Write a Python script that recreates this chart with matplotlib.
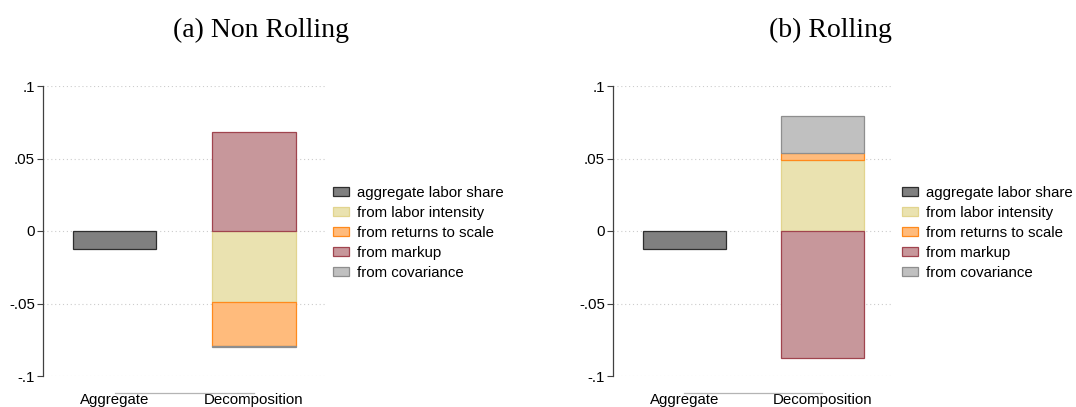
import numpy as np
import matplotlib
matplotlib.use("Agg")
import matplotlib.pyplot as plt
from matplotlib.patches import Patch

plt.rcParams['font.family'] = ['Liberation Sans', 'DejaVu Sans']

# data
categories = ["Aggregate", "Decomposition"]
components = ["from labor intensity", "from returns to scale", "from markup", "from covariance"]
titles = ["(a) Non Rolling", "(b) Rolling"]

agg_nonroll = -0.0126
dec_nonroll = [-0.0492, -0.0303, 0.0685, -0.0008]

agg_roll = -0.0126
dec_roll = [0.0490, 0.0048, -0.0874, 0.0252]

agg_label = "aggregate labor share"
agg_style = dict(fc="#808080", ec="#2e2e2e")
comp_styles = [
    dict(fc="#EAE2B0", ec="#E2D48E"),
    dict(fc="#FFBB7C", ec="#FF8A1C"),
    dict(fc="#C7979B", ec="#A0444E"),
    dict(fc="#C0C0C0", ec="#8E8E8E"),
]

W, H = 1076, 407
fig = plt.figure(figsize=(W / 100, H / 100), dpi=100)


def px(x0, y0, x1, y1):
    return [x0 / W, 1 - y1 / H, (x1 - x0) / W, (y1 - y0) / H]


def panel(rect, agg, dec, title, title_x, leg_x):
    ax = fig.add_axes(rect)
    width = 0.6
    ax.bar(0, agg, width=width, linewidth=0.9, zorder=3, **agg_style)
    pos, neg = 0.0, 0.0
    for v, st in zip(dec, comp_styles):
        if v >= 0:
            ax.bar(1, v, bottom=pos, width=width, linewidth=0.9, zorder=3, **st)
            pos += v
        else:
            ax.bar(1, v, bottom=neg, width=width, linewidth=0.9, zorder=3, **st)
            neg += v

    ax.set_ylim(-0.1, 0.1)
    ax.set_xlim(-0.515, 1.51)
    yt = [-0.1, -0.05, 0, 0.05, 0.1]
    ax.set_yticks(yt)
    ax.set_yticklabels(["-.1", "-.05", "0", ".05", ".1"])
    ax.yaxis.grid(True, linestyle=(0, (1, 2.5)), color="#cccccc", linewidth=0.8, zorder=0)
    ax.tick_params(axis="y", length=4.3, width=0.8, pad=1.5, labelsize=10.8, color="#404040")

    ax.set_xticks([0, 1])
    ax.set_xticklabels(categories)
    ax.tick_params(axis="x", length=0, pad=0.5, labelsize=10.8)

    for s in ["top", "right"]:
        ax.spines[s].set_visible(False)
    ax.spines["left"].set_color("#404040")
    ax.spines["left"].set_linewidth(0.9)
    ax.spines["bottom"].set_position(("outward", 12))
    ax.spines["bottom"].set_bounds(0, 1)
    ax.spines["bottom"].set_color("#b4b4b4")
    ax.spines["bottom"].set_linewidth(0.9)

    handles = [Patch(linewidth=0.9, **agg_style)] + [Patch(linewidth=0.9, **st) for st in comp_styles]
    labels = [agg_label] + components
    fig.legend(handles, labels, loc="center left", bbox_to_anchor=(leg_x / W, 1 - 233 / H),
               frameon=False, fontsize=10.8, handlelength=1.07, handleheight=0.6,
               handletextpad=0.5, labelspacing=0.4, borderpad=0, borderaxespad=0)

    fig.text(title_x / W, 1 - 37 / H, title, ha="center", va="baseline",
             fontsize=20, family=["Liberation Serif", "DejaVu Serif"])
    return ax


panel(px(43, 86, 325, 376), agg_nonroll, dec_nonroll, titles[0], 261, 333)
panel(px(613, 86, 893, 376), agg_roll, dec_roll, titles[1], 830, 902)

fig.savefig("out.png", dpi=100)
